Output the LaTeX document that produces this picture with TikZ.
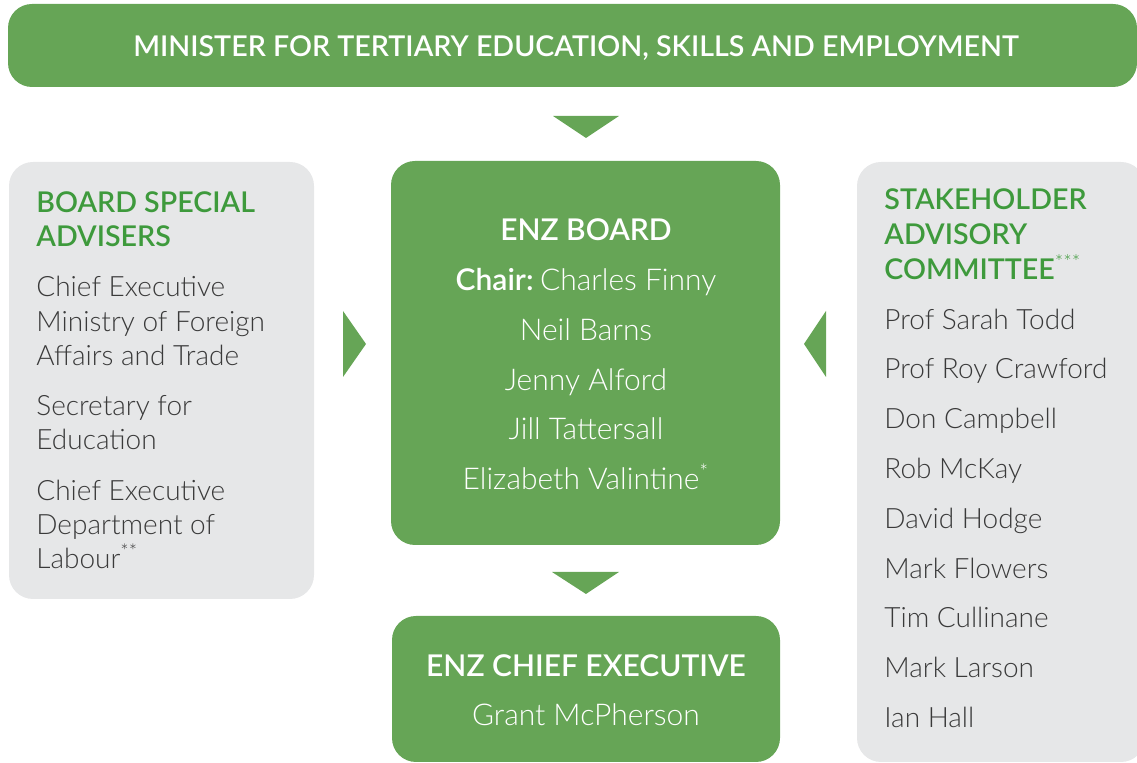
\documentclass[tikz,border=0pt]{standalone}
\usepackage{fontspec}
\setmainfont{Lato}
\newfontfamily\lightfont{Lato Light}
\newfontfamily\semifont{Lato Semibold}
\usetikzlibrary{calc}
\definecolor{enzgreen}{HTML}{66A556}
\definecolor{headgreen}{HTML}{3E9A3C}
\definecolor{boxgray}{HTML}{E6E7E8}
\definecolor{namegray}{HTML}{3A3A3A}
\tikzset{
  greenbox/.style={fill=enzgreen, draw=none, rounded corners=12pt},
  graybox/.style={fill=boxgray, draw=none, rounded corners=12pt},
  marker/.style={fill=enzgreen, draw=none},
  headtxt/.style={anchor=base west, inner sep=0pt, text=headgreen, font=\semifont\fontsize{14.3}{17}\selectfont},
  nametxt/.style={anchor=base west, inner sep=0pt, text=namegray, font=\lightfont\fontsize{14}{17}\selectfont},
  whitehead/.style={anchor=base, inner sep=0pt, text=white, font=\semifont\fontsize{15}{18}\selectfont},
  whitename/.style={anchor=base, inner sep=0pt, text=white, font=\lightfont\fontsize{15}{18}\selectfont},
}
\begin{document}
\begin{tikzpicture}[x=0.5pt, y=-0.5pt]
\useasboundingbox (0,0) rectangle (1137,763);
% boxes
\fill[greenbox] (8,4) rectangle (1137,87);
\fill[graybox] (9,162) rectangle (314,599);
\fill[greenbox] (391,161) rectangle (780,545);
\fill[graybox] (857,162) rectangle (1145,762);
\fill[greenbox] (392,616) rectangle (780,762);
% markers
\fill[marker] (553,116) -- (619,116) -- (586,138) -- cycle;
\fill[marker] (343,311) -- (366,344) -- (343,377) -- cycle;
\fill[marker] (826,311) -- (804,344) -- (826,377) -- cycle;
\fill[marker] (552,572) -- (619,572) -- (586,594) -- cycle;
% minister
\node[whitehead, font=\semifont\fontsize{14.3}{17}\selectfont] (minister) at (576,57) {MINISTER FOR TERTIARY EDUCATION, SKILLS AND EMPLOYMENT};
% left
\node[headtxt] (l1) at (36,213) {BOARD SPECIAL};
\node[headtxt] (l2) at (36,247) {ADVISERS};
\node[nametxt] (l3) at (36,297) {Chief Executive};
\node[nametxt] (l4) at (36,332) {Ministry of Foreign};
\node[nametxt] (l5) at (36,366) {Affairs and Trade};
\node[nametxt] (l6) at (36,416) {Secretary for};
\node[nametxt] (l7) at (36,450) {Education};
\node[nametxt] (l8) at (36,501) {Chief Executive};
\node[nametxt] (l9) at (36,535) {Department of};
\node[nametxt] (l10) at (36,569) {Labour\textsuperscript{**}};
% center
\node[whitehead] (c1) at (586,241) {ENZ BOARD};
\node[whitename] (c2) at (586,291) {{\semifont Chair:}\hspace{3.2pt}Charles Finny};
\node[whitename] (c3) at (586,341) {Neil Barns};
\node[whitename] (c4) at (586,391) {Jenny Alford};
\node[whitename] (c5) at (586,440) {Jill Tattersall};
\node[whitename] (c6) at (586,490) {Elizabeth Valintine\textsuperscript{*}};
% bottom
\node[whitehead] (b1) at (586,677) {ENZ CHIEF EXECUTIVE};
\node[whitename] (b2) at (586,726) {Grant McPherson};
% right
\node[headtxt] (r1) at (884,210) {STAKEHOLDER};
\node[headtxt] (r2) at (884,245) {ADVISORY};
\node[headtxt] (r3) at (884,280) {COMMITTEE{\lightfont\textsuperscript{***}}};
\node[nametxt] (r4) at (884,330) {Prof Sarah Todd};
\node[nametxt] (r5) at (884,379) {Prof Roy Crawford};
\node[nametxt] (r6) at (884,429) {Don Campbell};
\node[nametxt] (r7) at (884,479) {Rob McKay};
\node[nametxt] (r8) at (884,529) {David Hodge};
\node[nametxt] (r9) at (884,579) {Mark Flowers};
\node[nametxt] (r10) at (884,628) {Tim Cullinane};
\node[nametxt] (r11) at (884,678) {Mark Larson};
\node[nametxt] (r12) at (884,728) {Ian Hall};
\end{tikzpicture}
\end{document}
